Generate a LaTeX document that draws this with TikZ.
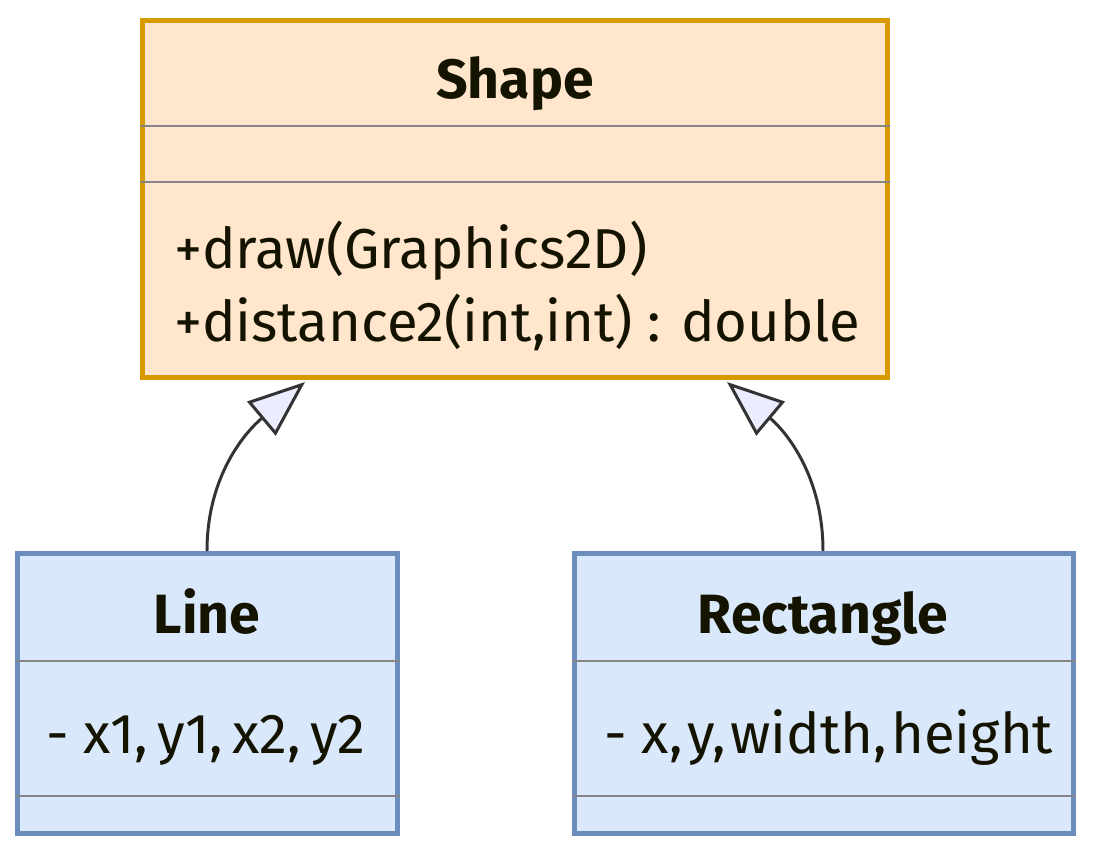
\documentclass[tikz,border=0pt]{standalone}
\usepackage{fontspec}
\setmainfont{Fira Sans}
\usepackage{tikz}
\usetikzlibrary{arrows.meta, positioning, calc}

\definecolor{shapefill}{HTML}{FFE6CC}
\definecolor{shapeline}{HTML}{D79B00}
\definecolor{subfill}{HTML}{DAE8FC}
\definecolor{subline}{HTML}{6C8EBF}
\definecolor{sepgray}{HTML}{858585}
\definecolor{txt}{HTML}{131300}
\definecolor{tipfill}{HTML}{ECECFF}
\definecolor{edge}{HTML}{333333}

\begin{document}
\begin{tikzpicture}[
        x=0.02cm, y=-0.02cm,
        classbox/.style={draw, line width=2.8pt, inner sep=0pt, anchor=north west},
        parent/.style={classbox, draw=shapeline, fill=shapefill},
        child/.style={classbox, draw=subline, fill=subfill},
        sep/.style={sepgray, line width=1.5pt},
        title/.style={font=\fontsize{31.5}{36}\selectfont\bfseries, text=txt, anchor=base},
        member/.style={font=\fontsize{32}{36}\selectfont, text=txt, anchor=base west},
        inherit/.style={edge, line width=1.7pt,
            -{Triangle[length=1.14cm, width=0.88cm, fill=tipfill, line join=miter]}},
    ]
        \useasboundingbox (0,0) rectangle (1093,853);

        % Boxes
        \node[parent, minimum width=14.9cm, minimum height=7.14cm] (shape) at (140,18) {};
        \node[child, minimum width=7.6cm, minimum height=5.6cm] (line) at (15,551) {};
        \node[child, minimum width=9.98cm, minimum height=5.6cm] (rect) at (572,551) {};

        % Compartment lines
        \foreach \y in {126, 182} \draw[sep] (shape.west |- 0,\y) -- (shape.east |- 0,\y);
        \foreach \y in {661, 796} {
            \draw[sep] (line.west |- 0,\y) -- (line.east |- 0,\y);
            \draw[sep] (rect.west |- 0,\y) -- (rect.east |- 0,\y);
        }

        % Labels
        \node[title] (shapename) at (515,98) {Shape};
        \node[member] (draw) at (168,268) {+draw(Graphics2D)};
        \node[member] (dist) at (168,341) {+distance2(int,int) : double};
        \node[title] (linename) at (207,633) {Line};
        \node[member] (linefields) at (40,753) {- x1,\,y1,\,x2,\,y2};
        \node[title] (rectname) at (823,633) {Rectangle};
        \node[member] (rectfields) at (598,753) {- x,\kern2.5pt y,\kern2.5pt width,\kern2.5pt height};

        % Inheritance
        \coordinate (lefttip) at (305,382);
        \coordinate (righttip) at (727,382);
        \draw[inherit] (line.north -| 207,0) to[out=90, in=220] (lefttip);
        \draw[inherit] (rect.north -| 823,0) to[out=90, in=-40] (righttip);
    \end{tikzpicture}
\end{document}
